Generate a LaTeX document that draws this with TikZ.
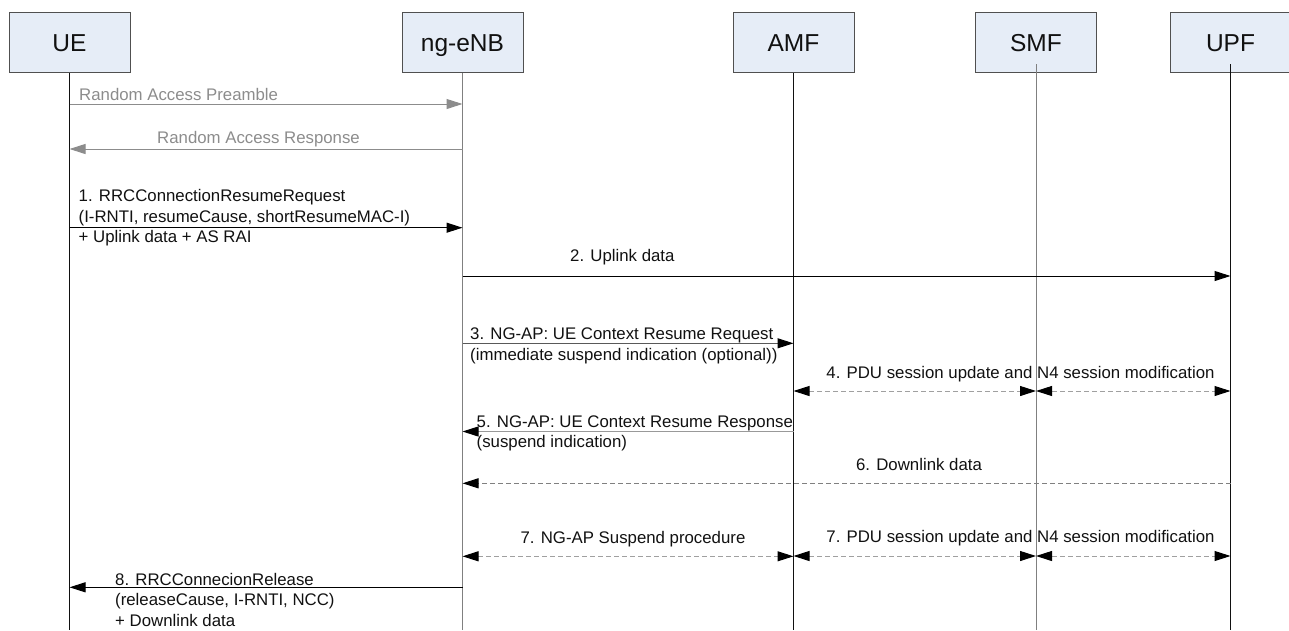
\documentclass[tikz,border=0pt]{standalone}
\usepackage{fontspec}
\setmainfont{Liberation Sans}
\usetikzlibrary{arrows.meta}
\definecolor{boxfill}{HTML}{E6EDF7}
\definecolor{boxline}{HTML}{505050}
\definecolor{ragray}{HTML}{8C8C8C}
\definecolor{lifegray}{HTML}{808080}
\definecolor{dashgray}{HTML}{A0A0A0}
\definecolor{dashdark}{HTML}{808080}
\definecolor{txt}{HTML}{111111}
\begin{document}
\begin{tikzpicture}[x=1pt,y=-1pt,
  actor/.style={draw=boxline, fill=boxfill, line width=0.9pt, minimum width=121pt,
    minimum height=60pt, inner sep=0pt, text height=18pt, text depth=0pt,
    text=txt, font=\fontsize{24.5}{29}\selectfont},
  life/.style={line width=1pt, draw=#1},
  lbl/.style={inner sep=0pt, text=txt, font=\fontsize{16.8}{20.4}\selectfont, align=left},
  ralbl/.style={inner sep=0pt, text=ragray, font=\fontsize{16.8}{20.4}\selectfont},
  head/.style={-{Triangle[length=16pt,width=10pt,color=#1]}},
  dhead/.style={{Triangle[length=16pt,width=10pt,color=black]}-{Triangle[length=16pt,width=10pt,color=black]}},
  msg/.style={line width=1pt, draw=#1, head=black},
  ramsg/.style={line width=1pt, draw=ragray, head=ragray},
  dmsg/.style={line width=1pt, draw=#1, dash pattern=on 5pt off 3pt},
]
\useasboundingbox (0,0) rectangle (1289,630);

% actors
\node[actor] (ue)  at (69.5,42.7)  {UE};
\node[actor] (enb) at (462.5,42.7) {ng-eNB};
\node[actor] (amf) at (793.5,42.7) {AMF};
\node[actor] (smf) at (1036,42.7)  {SMF};
\node[actor] (upf) at (1230.5,42.7) {UPF};

% lifelines
\coordinate (ueb)  at (ue  |- 0,630);
\coordinate (enbb) at (enb |- 0,630);
\coordinate (amfb) at (amf |- 0,630);
\coordinate (smfb) at (smf |- 0,630);
\coordinate (upfb) at (upf |- 0,630);
\coordinate (smft) at (smf |- 0,64);
\coordinate (upft) at (upf |- 0,64);
\draw[life=txt]      (ue.south)  -- (ueb);
\draw[life=lifegray] (enb.south) -- (enbb);
\draw[life=txt]      (amf.south) -- (amfb);
\draw[life=lifegray] (smft) -- (smfb);
\draw[life=txt]      (upft) -- (upfb);

% Random Access
\node[ralbl, anchor=base west] (tpre) at (79,100) {Random Access Preamble};
\draw[ramsg] (ue |- 0,104) -- (enb |- 0,104);
\node[ralbl, anchor=base west] (tres) at (157,143) {Random Access Response};
\draw[ramsg] (enb |- 0,149) -- (ue |- 0,149);

% 1
\node[lbl, anchor=base west] (t1) at (78.5,242.5)
  {1. RRCConnectionResumeRequest\\(I-RNTI, resumeCause, shortResumeMAC-I)\\+ Uplink data + AS RAI};
\draw[msg=black] (ue |- 0,227.7) -- (enb |- 0,227.7);

% 2
\node[lbl, anchor=base west] (t2) at (570,261) {2. Uplink data};
\draw[msg=black] (enb |- 0,276) -- (upf |- 0,276);

% 3
\node[lbl, anchor=base west] (t3) at (470,360.3)
  {3. NG-AP: UE Context Resume Request\\(immediate suspend indication (optional))};
\draw[msg=black!65] (enb |- 0,343.3) -- (amf |- 0,343.3);

% 4
\node[lbl, anchor=base] (t4) at (1020.5,378.3) {4. PDU session update and N4 session modification};
\draw[dmsg=dashgray, dhead] (amf |- 0,391) -- (smf |- 0,391);
\draw[dmsg=dashgray, dhead] (smf |- 0,391) -- (upf |- 0,391);

% 5
\node[lbl, anchor=base west] (t5) at (476.5,447.5)
  {5. NG-AP: UE Context Resume Response\\(suspend indication)};
\draw[msg=black!40] (amf |- 0,431.5) -- (enb |- 0,431.5);

% 6
\node[lbl, anchor=base] (t6) at (919,470) {6. Downlink data};
\draw[dmsg=dashdark, head=black] (upf |- 0,483.3) -- (enb |- 0,483.3);

% 7
\node[lbl, anchor=base] (t7a) at (633,543.3) {7. NG-AP Suspend procedure};
\draw[dmsg=dashgray, dhead] (enb |- 0,556.3) -- (amf |- 0,556.3);
\node[lbl, anchor=base] (t7b) at (1020.5,542.3) {7. PDU session update and N4 session modification};
\draw[dmsg=dashgray, dhead] (amf |- 0,556) -- (smf |- 0,556);
\draw[dmsg=dashgray, dhead] (smf |- 0,556) -- (upf |- 0,556);

% 8
\node[lbl, anchor=base west] (t8) at (115,626)
  {8. RRCConnecionRelease\\(releaseCause, I-RNTI, NCC)\\+ Downlink data};
\draw[msg=black] (enb |- 0,587.3) -- (ue |- 0,587.3);
\end{tikzpicture}
\end{document}
